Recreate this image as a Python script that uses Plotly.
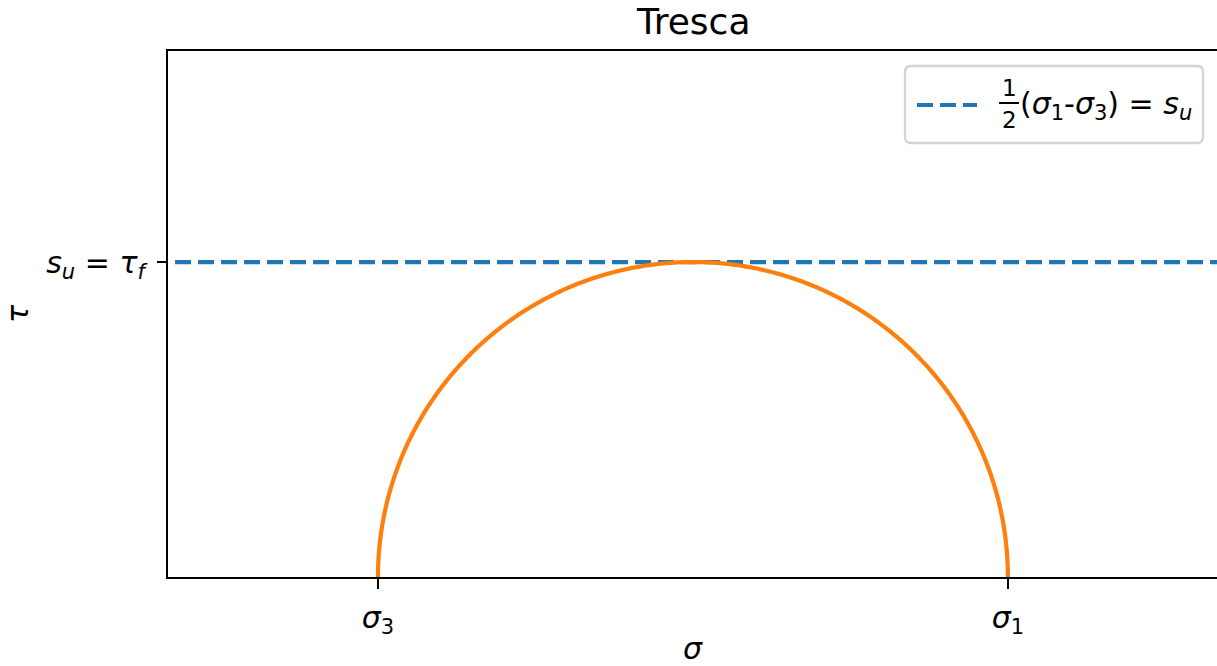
import numpy as np
import plotly.graph_objects as go

# ---- data ----
sigma3 = 1.0
sigma1 = 3.0
tau_f = (sigma1 - sigma3) / 2.0
x_range = [0.3333, 3.664]
y_range = [0.0, 1.67]
x_tick_vals = [sigma3, sigma1]
x_tick_text = ["<i>σ</i><sub>3</sub>", "<i>σ</i><sub>1</sub>"]
y_tick_vals = [tau_f]
y_tick_text = ["<i>s<sub>u</sub></i> = <i>τ<sub>f</sub></i>"]
legend_label_main = "(<i>σ</i><sub>1</sub>-<i>σ</i><sub>3</sub>) = <i>s<sub>u</sub></i>"
title_text = "Tresca"

BLUE = "#1f77b4"
ORANGE = "#ff7f0e"
FONT = "DejaVu Sans"
FS = 30

W, H = 1217, 666
L, R, T, B = 168, 0, 51, 89
PW = W - L - R
PH = H - T - B


def px(x):
    return (x - L) / PW


def py(y):
    return (H - B - y) / PH


center = (sigma1 + sigma3) / 2.0
radius = (sigma1 - sigma3) / 2.0
theta = np.linspace(np.pi, 0, 600)
circ_x = center + radius * np.cos(theta)
circ_y = radius * np.sin(theta)

DASH = "16px,7px"

fig = go.Figure()
fig.add_trace(go.Scatter(x=[x_range[0] - 1, x_range[1] + 1], y=[tau_f, tau_f], mode="lines",
                         line=dict(color=BLUE, width=4.2, dash=DASH),
                         showlegend=False, hoverinfo="skip"))
fig.add_trace(go.Scatter(x=circ_x, y=circ_y, mode="lines",
                         line=dict(color=ORANGE, width=4.2, simplify=False),
                         showlegend=False, hoverinfo="skip"))

fig.update_layout(
    width=W, height=H,
    margin=dict(l=L, r=R, t=T, b=B, pad=0),
    paper_bgcolor="white", plot_bgcolor="white",
    font=dict(family=FONT, size=FS, color="black"),
    showlegend=False,
)
fig.update_xaxes(range=x_range, showgrid=False, zeroline=False, showline=True,
                 linecolor="black", linewidth=2.3, mirror=True,
                 ticks="outside", ticklen=10, tickwidth=2.3, tickcolor="black",
                 tickvals=x_tick_vals, ticktext=x_tick_text, ticklabelstandoff=3)
fig.update_yaxes(range=y_range, showgrid=False, zeroline=False, showline=True,
                 linecolor="black", linewidth=2.3, mirror=False,
                 ticks="outside", ticklen=9, tickwidth=2.3, tickcolor="black",
                 tickvals=y_tick_vals, ticktext=y_tick_text, ticklabelstandoff=6)

annotations = []
# title
annotations.append(dict(text=title_text, x=0.5, y=py(22), xref="paper", yref="paper",
                        xanchor="center", yanchor="middle", showarrow=False,
                        font=dict(size=36, family=FONT)))
# axis labels
annotations.append(dict(text="<i>σ</i>", x=px(693), y=py(648), xref="paper", yref="paper",
                        xanchor="center", yanchor="middle", showarrow=False,
                        font=dict(size=FS, family=FONT)))
annotations.append(dict(text="<i>τ</i>", x=px(17), y=py(314), xref="paper", yref="paper",
                        xanchor="center", yanchor="middle", showarrow=False, textangle=-90,
                        font=dict(size=FS, family=FONT)))
# legend texts
annotations.append(dict(text="1", x=px(1009), y=py(88), xref="paper", yref="paper",
                        xanchor="center", yanchor="middle", showarrow=False,
                        font=dict(size=23, family=FONT)))
annotations.append(dict(text="2", x=px(1009), y=py(120), xref="paper", yref="paper",
                        xanchor="center", yanchor="middle", showarrow=False,
                        font=dict(size=23, family=FONT)))
annotations.append(dict(text=legend_label_main, x=px(1018), y=py(106), xref="paper", yref="paper",
                        xanchor="left", yanchor="middle", showarrow=False,
                        font=dict(size=FS, family=FONT)))
fig.update_layout(annotations=annotations)

# legend frame (rounded)
x0, x1, y0, y1, rr = 905, 1203, 66, 143, 6
path = (f"M {px(x0 + rr)},{py(y0)} L {px(x1 - rr)},{py(y0)} "
        f"Q {px(x1)},{py(y0)} {px(x1)},{py(y0 + rr)} L {px(x1)},{py(y1 - rr)} "
        f"Q {px(x1)},{py(y1)} {px(x1 - rr)},{py(y1)} L {px(x0 + rr)},{py(y1)} "
        f"Q {px(x0)},{py(y1)} {px(x0)},{py(y1 - rr)} L {px(x0)},{py(y0 + rr)} "
        f"Q {px(x0)},{py(y0)} {px(x0 + rr)},{py(y0)} Z")
shapes = [
    dict(type="path", path=path, xref="paper", yref="paper", fillcolor="white",
         line=dict(color="#d4d4d4", width=2.3), layer="above"),
    dict(type="line", x0=px(917), x1=px(977), y0=py(105), y1=py(105), xref="paper", yref="paper",
         line=dict(color=BLUE, width=4.2, dash=DASH), layer="above"),
    dict(type="line", x0=px(999), x1=px(1019), y0=py(103), y1=py(103), xref="paper", yref="paper",
         line=dict(color="black", width=2), layer="above"),
]
fig.update_layout(shapes=shapes)

fig.write_html("out.html")
